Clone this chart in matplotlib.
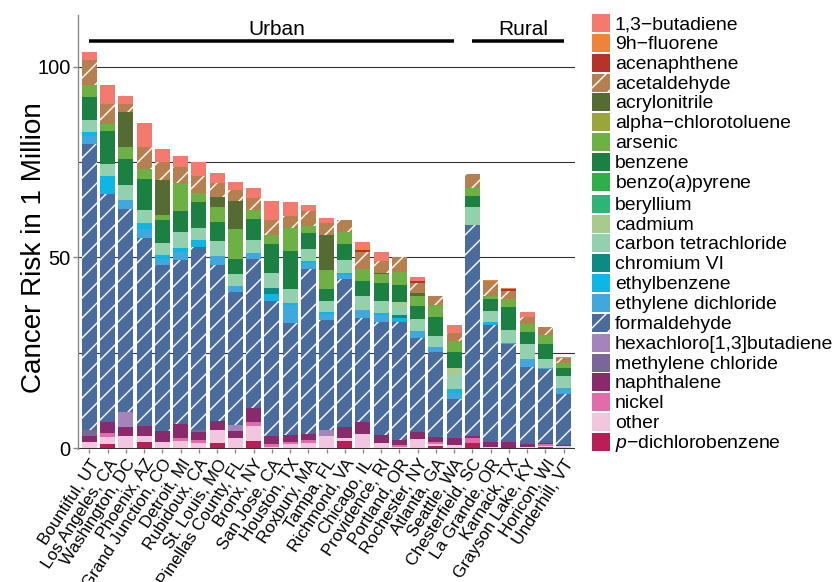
import numpy as np
import matplotlib.pyplot as plt
from matplotlib.patches import Patch

plt.rcParams['font.family'] = 'Liberation Sans'
plt.rcParams['mathtext.fontset'] = 'custom'
plt.rcParams['mathtext.rm'] = 'Liberation Sans'
plt.rcParams['mathtext.it'] = 'Liberation Sans:italic'
plt.rcParams['hatch.linewidth'] = 0.85

# Sites (first 21 urban, last 6 rural)

sites = ['Bountiful, UT', 'Los Angeles, CA', 'Washington, DC', 'Phoenix, AZ',
         'Grand Junction, CO', 'Detroit, MI', 'Rubidoux, CA', 'St. Louis, MO',
         'Pinellas County, FL', 'Bronx, NY', 'San Jose, CA', 'Houston, TX',
         'Roxbury, MA', 'Tampa, FL', 'Richmond, VA', 'Chicago, IL',
         'Providence, RI', 'Portland, OR', 'Rochester, NY', 'Atlanta, GA',
         'Seattle, WA', 'Chesterfield, SC', 'La Grande, OR', 'Karnack, TX',
         'Grayson Lake, KY', 'Horicon, WI', 'Underhill, VT']
n_urban = 21

# Cancer risk per million, one list per compound (same order as sites)

butadiene =      [2.1, 5.0, 2.1, 6.4, 3.6, 2.9, 3.7, 2.6, 2.1, 2.5, 5.0, 3.7, 1.6, 1.3, 0, 1.4, 2.4, 0, 1.0, 0, 2.2, 0, 0, 0, 1.3, 0, 0.3]
fluorene =       [0, 0, 0, 0, 0, 0, 0, 0, 0, 0, 0, 0, 0, 0, 0, 0.7, 0, 0, 0, 0, 0, 0, 0.3, 0.3, 0, 0, 0]
acenaphthene =   [0, 0, 0, 0, 0, 0, 0, 0, 0, 0, 0, 0, 0, 0, 0, 0.7, 0, 0, 0.7, 0, 0, 0, 0, 0.5, 0, 0, 0]
acetaldehyde =   [6.6, 5.2, 2.1, 5.7, 4.5, 4.1, 4.5, 3.9, 2.9, 3.3, 4.0, 3.1, 3.8, 3.1, 3.3, 4.3, 3.0, 3.8, 2.4, 2.3, 2.0, 3.5, 3.9, 2.2, 1.7, 2.1, 1.2]
acrylonitrile =  [0, 0, 9.2, 0, 9.4, 0, 0, 2.6, 7.2, 0, 0, 0, 0, 9.2, 0, 0, 0.4, 0, 0.9, 0, 0, 0, 0, 0, 0, 0, 0]
chlorotoluene =  [0] * 27
arsenic =        [3.1, 1.9, 3.1, 2.6, 1.3, 7.4, 2.4, 3.7, 7.9, 2.3, 2.3, 5.9, 1.9, 5.0, 3.2, 3.3, 2.3, 3.5, 2.7, 3.2, 2.9, 2.2, 0.8, 2.1, 2.2, 2.4, 1.3]
benzene =        [6.1, 8.6, 6.8, 8.1, 6.0, 5.5, 6.8, 5.2, 3.9, 5.5, 7.6, 10.0, 4.2, 3.1, 4.2, 3.7, 4.8, 4.5, 3.4, 5.0, 4.2, 2.8, 3.1, 6.0, 3.1, 3.7, 2.1]
benzopyrene =    [0] * 27
beryllium =      [0] * 27
cadmium =        [0, 0, 0, 0, 0, 0, 0, 0, 0, 0, 0, 0, 0, 0, 0, 0, 0, 1.0, 0, 0, 1.5, 0.3, 0.3, 0, 0, 0, 0]
carbon_tet =     [3.1, 3.1, 3.9, 3.4, 3.1, 4.2, 3.1, 3.8, 3.1, 3.3, 3.9, 3.7, 3.1, 2.9, 3.4, 3.8, 3.1, 2.4, 3.1, 3.0, 4.1, 4.5, 2.6, 3.5, 3.9, 2.5, 3.1]
chromium =       [0, 0, 0, 0, 0, 0, 0, 0, 0, 0, 1.6, 0, 0, 0, 0, 0, 0, 0.8, 0, 0, 0, 0, 0, 0, 0, 0, 0]
ethylbenzene =   [1.0, 4.7, 0, 1.7, 0.9, 1.0, 1.8, 0, 0, 0, 1.7, 0.7, 0.7, 0.5, 0.5, 0, 0.5, 1.0, 0, 0, 0.8, 0, 0.8, 0.3, 0, 0, 0]
ethylene_dcl =   [2.1, 0, 2.4, 2.2, 1.7, 2.1, 0, 2.4, 1.6, 1.7, 0, 4.5, 1.4, 1.6, 1.0, 2.0, 1.7, 0, 1.7, 1.1, 1.7, 0, 0, 0, 2.0, 0.3, 1.7]
formaldehyde =   [74.9, 59.7, 53.3, 49.3, 43.4, 42.9, 47.9, 40.8, 34.8, 38.9, 35.4, 29.5, 43.3, 28.9, 38.8, 27.2, 29.8, 30.8, 24.7, 22.4, 10.2, 55.4, 30.6, 25.5, 20.4, 19.3, 13.3]
hexachloro =     [0, 0, 3.8, 0, 0, 0, 0, 0, 1.7, 0, 0, 0, 0, 1.6, 0, 0, 0, 0, 0, 0, 0, 0, 0, 0, 0, 0, 0]
methylene =      [1.6, 0, 0, 0, 0, 0, 0.6, 0, 0, 0, 0, 0, 0, 0, 0, 0, 0, 0, 0, 0, 0, 0, 0, 0, 0, 0, 0]
naphthalene =    [1.6, 2.9, 2.4, 2.7, 2.9, 3.7, 2.1, 2.4, 1.8, 3.7, 2.1, 1.7, 1.5, 0, 2.9, 3.2, 1.9, 1.3, 1.9, 1.3, 1.8, 0.5, 1.3, 1.7, 0.6, 0.3, 0.4]
nickel =         [0, 1.0, 0, 0, 0, 0.7, 0.7, 0, 0, 1.2, 0.8, 0.5, 0.7, 0, 0, 0, 0, 0.5, 0, 0.4, 0, 1.1, 0, 0, 0, 0.4, 0]
other =          [1.6, 1.9, 3.2, 1.5, 1.7, 2.0, 1.5, 3.3, 2.7, 3.7, 0.4, 1.2, 1.5, 3.1, 0.7, 3.8, 1.5, 0.4, 2.4, 0.6, 0.9, 0, 0.4, 0, 0.4, 0.4, 0.5]
dichlorobenzene = [0, 1.1, 0, 1.7, 0, 0, 0, 1.5, 0, 2.0, 0, 0, 0, 0, 1.9, 0, 0, 0, 0, 0.6, 0, 1.5, 0, 0, 0, 0.3, 0]

# Legend order (top of the stack first)

labels = ['1,3\u2212butadiene', '9h\u2212fluorene', 'acenaphthene', 'acetaldehyde',
          'acrylonitrile', 'alpha\u2212chlorotoluene', 'arsenic', 'benzene',
          r'benzo($\it{a}$)pyrene', 'beryllium', 'cadmium', 'carbon tetrachloride',
          'chromium VI', 'ethylbenzene', 'ethylene dichloride', 'formaldehyde',
          'hexachloro[1,3]butadiene', 'methylene chloride', 'naphthalene', 'nickel',
          'other', '$\\it{p}$\u2212dichlorobenzene']
series = [butadiene, fluorene, acenaphthene, acetaldehyde, acrylonitrile, chlorotoluene,
          arsenic, benzene, benzopyrene, beryllium, cadmium, carbon_tet, chromium,
          ethylbenzene, ethylene_dcl, formaldehyde, hexachloro, methylene, naphthalene,
          nickel, other, dichlorobenzene]
colors = ['#F47A6E', '#EE8439', '#B5332A', '#B5804F', '#546B33', '#9AA63A', '#6DB043',
          '#1B8041', '#2DB04A', '#2DB577', '#A8CB8D', '#93D0AE', '#0E8A84', '#0EB6E6',
          '#41A8DD', '#4A6C9C', '#A484BA', '#7B6699', '#882A6C', '#E06CAA', '#F2C6DE',
          '#B81F56']
hatched = ['acetaldehyde', 'formaldehyde']

# Plot (dpi 120 so the '//' hatch gets the reference spacing)

fig = plt.figure(figsize=(834 / 120, 582 / 120), dpi=120)
ax = fig.add_axes([78 / 834, 1 - 449 / 582, 497 / 834, 434 / 582])

x = np.arange(len(sites))
for yv in [0, 25, 50, 75, 100]:
    ax.axhline(yv, color='#333333', lw=0.67, zorder=0)

bottom = np.zeros(len(sites))
for lab, vals, col in reversed(list(zip(labels, series, colors))):
    vals = np.array(vals, dtype=float)
    if lab in hatched:
        ax.bar(x, vals, 0.82, bottom=bottom, color=col, edgecolor='white',
               linewidth=0, hatch='//', zorder=2)
    else:
        ax.bar(x, vals, 0.82, bottom=bottom, color=col, linewidth=0, zorder=2)
    bottom += vals

ax.set_xlim(-0.63, 26.63)
ax.set_ylim(-0.2, 113.5)
ax.set_yticks([0, 50, 100])
ax.set_xticks(x)
ax.set_xticklabels(sites, rotation=57, ha='right', va='top',
                   rotation_mode='anchor', fontsize=10.2)
ax.tick_params(axis='y', labelsize=12, length=3.3, color='#888888', pad=1)
ax.tick_params(axis='x', length=2.5, color='#888888', pad=2)
for side in ['top', 'right', 'bottom']:
    ax.spines[side].set_visible(False)
ax.spines['left'].set_color('#888888')
ax.spines['left'].set_linewidth(0.8)
ax.set_ylabel('Cancer Risk in 1 Million', fontsize=16.7)
ax.yaxis.set_label_coords(-0.062, 0.465)

# Urban / Rural group brackets
groups = [('Urban', 0, n_urban - 1), ('Rural', n_urban, len(sites) - 1)]
for name, a, b in groups:
    ax.plot([a, b], [106.6, 106.6], color='black', lw=2.1, clip_on=False,
            solid_capstyle='butt')
    ax.text((a + b) / 2 + 0.3, 107.3, name, ha='center', va='bottom', fontsize=12.5)

handles = []
for lab, col in zip(labels, colors):
    if lab in hatched:
        handles.append(Patch(facecolor=col, edgecolor='white', hatch='//', linewidth=0.6, label=lab))
    else:
        handles.append(Patch(facecolor=col, edgecolor='white', linewidth=0.6, label=lab))
fig.legend(handles=handles, loc='upper left', bbox_to_anchor=(591 / 834, 1 - 13 / 582),
           frameon=False, fontsize=11.6, handlelength=0.98, handleheight=1.14,
           handletextpad=0.26, labelspacing=-0.012, borderpad=0, borderaxespad=0)

plt.savefig('out.png', dpi=120)
